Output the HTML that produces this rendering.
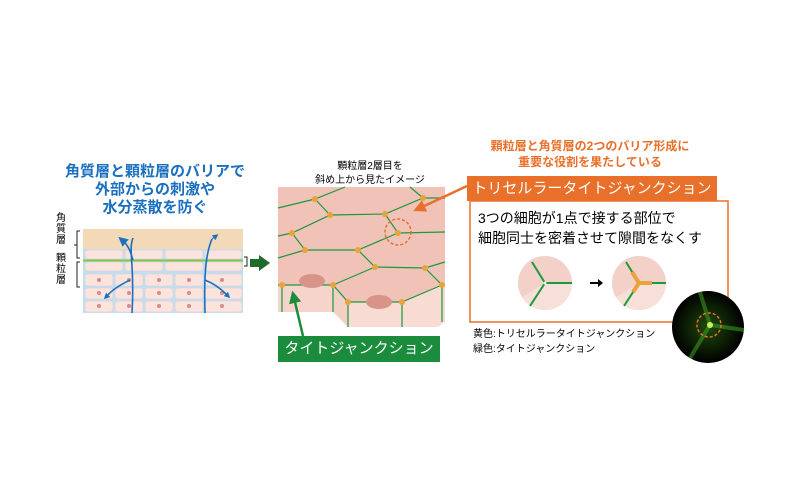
<!DOCTYPE html>
<html><head><meta charset="utf-8"><style>
body{margin:0;background:#fff;width:800px;height:500px;overflow:hidden;font-family:"Liberation Sans","Noto Sans CJK JP",sans-serif}
.t{position:absolute;white-space:nowrap}
</style></head><body>
<div class="t" style="left:58px;top:163px;width:194px;text-align:center;color:#1a6fbf;font-weight:bold;font-size:15px;line-height:18px">角質層と顆粒層のバリアで<br>外部からの刺激や<br>水分蒸散を防ぐ</div>
<div class="t" style="left:56px;top:213px;font-size:10px;line-height:11px;width:12px">角<br>質<br>層</div>
<div class="t" style="left:56px;top:253px;font-size:10px;line-height:11px;width:12px">顆<br>粒<br>層</div>
<svg width="800" height="500" style="position:absolute;left:0;top:0">
<defs>
<marker id="ab" markerWidth="6" markerHeight="6" refX="3" refY="3" orient="auto"><path d="M0,0L6,3L0,6z" fill="#1a6fbf"/></marker>
<marker id="ag" markerWidth="5" markerHeight="5" refX="2" refY="2.5" orient="auto"><path d="M0,0L5,2.5L0,5z" fill="#1a8c3c"/></marker>
<marker id="ao" markerWidth="5" markerHeight="5" refX="2" refY="2.5" orient="auto"><path d="M0,0L5,2.5L0,5z" fill="#e8702a"/></marker>
<clipPath id="c1"><circle cx="545" cy="283" r="27"/></clipPath>
<clipPath id="c2"><circle cx="639" cy="283" r="27"/></clipPath>
<radialGradient id="rg"><stop offset="0" stop-color="#1f4a0c"/><stop offset="1" stop-color="#000"/></radialGradient>
</defs>
<path d="M80,231H77V258H80M77,245H74M80,262H77V287H80" stroke="#222" fill="none"/>
<rect x="83" y="229" width="160" height="20" fill="#f3d9b8"/>
<rect x="83" y="249" width="160" height="64" fill="#bfe0f2"/>
<g fill="#fbe3de" stroke="#e8c8c8" stroke-width="0.5">
<rect x="85" y="250" width="38" height="9" rx="3"/><rect x="125" y="250" width="38" height="9" rx="3"/><rect x="165" y="250" width="38" height="9" rx="3"/><rect x="205" y="250" width="37" height="9" rx="3"/>
<rect x="85" y="262" width="38" height="9" rx="3"/><rect x="125" y="262" width="38" height="9" rx="3"/><rect x="165" y="262" width="38" height="9" rx="3"/><rect x="205" y="262" width="37" height="9" rx="3"/>
<rect x="85" y="274" width="28" height="12" rx="3"/><rect x="115" y="274" width="28" height="12" rx="3"/><rect x="145" y="274" width="28" height="12" rx="3"/><rect x="175" y="274" width="28" height="12" rx="3"/><rect x="205" y="274" width="37" height="12" rx="3"/>
<rect x="85" y="288" width="28" height="11" rx="3"/><rect x="115" y="288" width="28" height="11" rx="3"/><rect x="145" y="288" width="28" height="11" rx="3"/><rect x="175" y="288" width="28" height="11" rx="3"/><rect x="205" y="288" width="37" height="11" rx="3"/>
<rect x="85" y="301" width="28" height="11" rx="3"/><rect x="115" y="301" width="28" height="11" rx="3"/><rect x="145" y="301" width="28" height="11" rx="3"/><rect x="175" y="301" width="28" height="11" rx="3"/><rect x="205" y="301" width="37" height="11" rx="3"/>
</g>
<g fill="#d98a8a"><circle cx="99" cy="280" r="2"/><circle cx="129" cy="280" r="2"/><circle cx="159" cy="280" r="2"/><circle cx="189" cy="280" r="2"/><circle cx="222" cy="280" r="2"/><circle cx="99" cy="293" r="2"/><circle cx="129" cy="293" r="2"/><circle cx="159" cy="293" r="2"/><circle cx="189" cy="293" r="2"/><circle cx="222" cy="293" r="2"/><circle cx="99" cy="306" r="2"/><circle cx="129" cy="306" r="2"/><circle cx="159" cy="306" r="2"/><circle cx="189" cy="306" r="2"/><circle cx="222" cy="306" r="2"/></g>
<line x1="83" y1="260.5" x2="243" y2="260.5" stroke="#7dc64a" stroke-width="2"/>
<path d="M133,238C128,250 135,265 132,313M130,280C120,285 112,290 108,295M205,313C204,280 205,255 212,239M205,280C215,284 222,290 226,294" stroke="#1a6fbf" stroke-width="1.6" fill="none"/>
<path d="M133,260C130,250 128,245 122,240" stroke="#1a6fbf" stroke-width="1.6" fill="none" marker-end="url(#ab)"/>
<path d="M108,295L106,297" stroke="#1a6fbf" marker-end="url(#ab)"/>
<path d="M212,239L216,236" stroke="#1a6fbf" marker-end="url(#ab)"/>
<path d="M226,294L228,296" stroke="#1a6fbf" marker-end="url(#ab)"/>
<path d="M244,257h3v9h-3" stroke="#222" fill="none"/>
<path d="M270,263L259,255V259H250V267H259V271Z" fill="#1e6b2a"/>
<!-- middle block -->
<rect x="278" y="187" width="167" height="98" fill="#f0c2b8"/>
<path d="M278,285H333V312H278Z" fill="#f6d4cc"/>
<path d="M333,285L348,302V327L333,312Z" fill="#f3cfc6"/>
<path d="M348,302H402L442,285H445V322L438,327H348Z" fill="#f8dcd4"/>
<path d="M333,285L348,302H402L442,285Z" fill="#f0c2b8"/>
<g stroke="#1a9a3c" stroke-width="1.2" fill="none">
<path d="M278,208L315,199L345,187M315,199L330,215L292,233L278,236M330,215L385,214L423,198L445,198M423,198L410,187M385,214L398,233L445,232M292,233L305,250L278,258M305,250L358,250L398,233M358,250L375,267L425,268L445,262M425,268L442,285M375,267L333,285M278,285H333L348,302H402L442,285"/>
<path d="M282,285V312M333,285V312M348,302V327M402,302V327M442,285V322"/>
</g>
<g fill="#e8a43a">
<circle cx="315" cy="199" r="3"/><circle cx="330" cy="215" r="3"/><circle cx="292" cy="233" r="3"/><circle cx="305" cy="250" r="3"/><circle cx="385" cy="214" r="3"/><circle cx="398" cy="233" r="3"/><circle cx="358" cy="250" r="3"/><circle cx="423" cy="198" r="3"/><circle cx="375" cy="267" r="3"/><circle cx="425" cy="268" r="3"/><circle cx="282" cy="285" r="3"/><circle cx="333" cy="285" r="3"/><circle cx="348" cy="302" r="3"/><circle cx="402" cy="302" r="3"/><circle cx="442" cy="285" r="3"/>
</g>
<ellipse cx="312" cy="281" rx="13" ry="7" fill="#d9948a"/>
<ellipse cx="379" cy="302" rx="13" ry="7" fill="#d9948a"/>
<circle cx="398" cy="232" r="13" stroke="#e8702a" stroke-width="1.5" stroke-dasharray="3,2" fill="none"/>
<line x1="467" y1="186" x2="420" y2="208" stroke="#e8702a" stroke-width="2.5" marker-end="url(#ao)"/>
<line x1="303" y1="336" x2="294" y2="298" stroke="#1a8c3c" stroke-width="2.5" marker-end="url(#ag)"/>
<!-- right -->
<rect x="470" y="201" width="258" height="121" fill="#fff" stroke="#e8702a" stroke-width="1.5"/>
<rect x="467" y="176" width="250" height="25" fill="#e8702a"/>
<g clip-path="url(#c1)"><rect x="515" y="253" width="60" height="60" fill="#f3d0c8"/><path d="M545,283L518,300V313H575V283Z" fill="#f7e0d8"/></g>
<path d="M532,262L545,283L572,283M545,283L530,306" stroke="#1a9a3c" stroke-width="2" fill="none"/>
<circle cx="545" cy="283" r="1.5" fill="#fff"/>
<g clip-path="url(#c2)"><rect x="609" y="253" width="60" height="60" fill="#f3d0c8"/><path d="M639,283L612,300V313H669V283Z" fill="#f7e0d8"/></g>
<path d="M626,262L639,283L666,283M639,283L624,306" stroke="#1a9a3c" stroke-width="2" fill="none"/>
<path d="M632,272L639,283L652,283M639,283L633,292" stroke="#e8a43a" stroke-width="4" fill="none"/>
<path d="M590,283h10" stroke="#000" stroke-width="2"/><path d="M598,279l5,4l-5,4z"/>
<circle cx="708" cy="327" r="36" fill="url(#rg)"/>
<path d="M700,292L710,325L690,358M710,325L744,330" stroke="#3fa020" stroke-width="4" fill="none" opacity="0.55"/>
<circle cx="710" cy="325" r="3" fill="#c8f060"/>
<circle cx="709" cy="325" r="12" stroke="#e8702a" stroke-width="1.5" stroke-dasharray="3,2" fill="none"/>
</svg>
<div class="t" style="left:305px;top:160px;width:130px;text-align:center;font-size:10px;line-height:14px">顆粒層2層目を<br>斜め上から見たイメージ</div>
<div class="t" style="left:278px;top:336px;width:162px;height:26px;background:#1a8c3c;color:#fff;font-size:15px;line-height:26px;text-align:center">タイトジャンクション</div>
<div class="t" style="left:470px;top:138px;width:240px;text-align:center;color:#e8702a;font-weight:bold;font-size:12px;line-height:16px">顆粒層と角質層の2つのバリア形成に<br>重要な役割を果たしている</div>
<div class="t" style="left:467px;top:176px;width:250px;text-align:center;color:#fff;font-size:15px;line-height:25px">トリセルラータイトジャンクション</div>
<div class="t" style="left:478px;top:208px;font-size:14px;line-height:20px">3つの細胞が1点で接する部位で<br>細胞同士を密着させて隙間をなくす</div>
<div class="t" style="left:473px;top:327px;font-size:10px;line-height:15px">黄色:トリセルラータイトジャンクション<br>緑色:タイトジャンクション</div>
</body></html>
